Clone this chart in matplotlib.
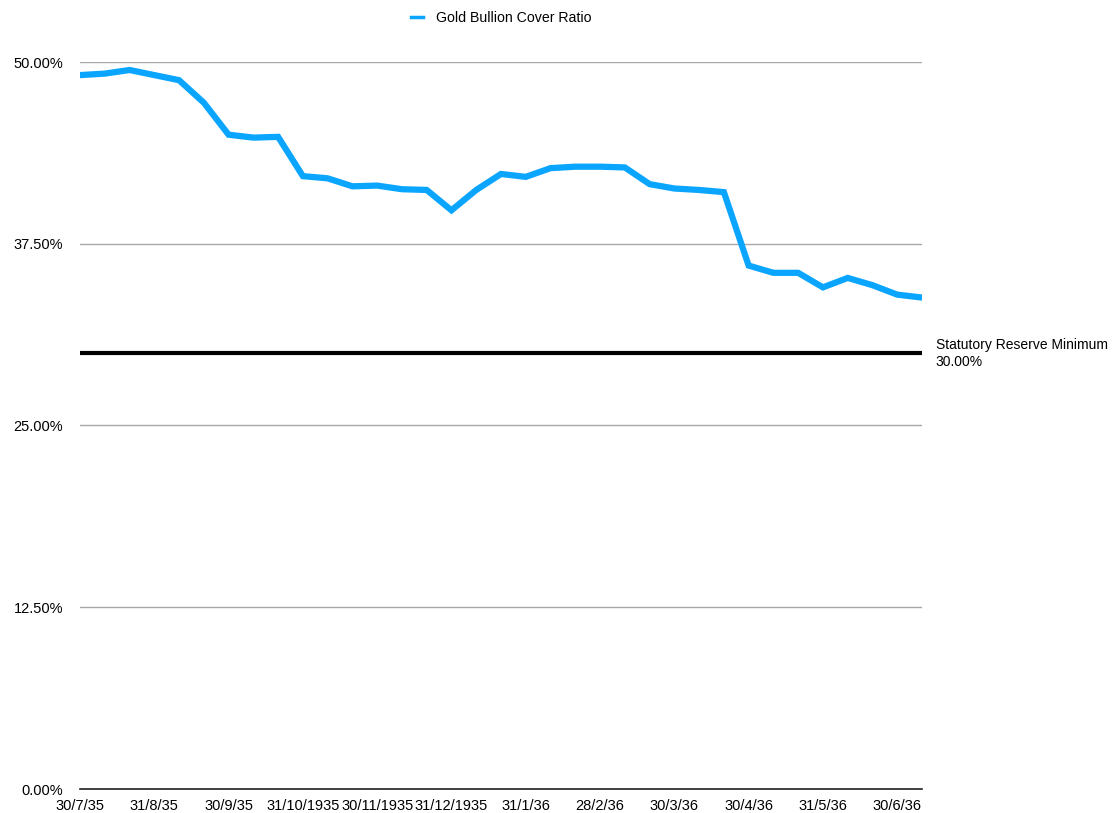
import matplotlib.pyplot as plt
from matplotlib.ticker import FuncFormatter

plt.rcParams['font.family'] = ['Liberation Sans', 'DejaVu Sans']

# cover ratio (%), one value per return date
cover_ratio = [49.1, 49.2, 49.45, 49.1, 48.75, 47.2, 45.0, 44.8, 44.85, 42.15,
               42.0, 41.45, 41.5, 41.25, 41.2, 39.8, 41.2, 42.3, 42.1, 42.7,
               42.8, 42.8, 42.75, 41.6, 41.3, 41.2, 41.05, 36.0, 35.5, 35.5,
               34.5, 35.15, 34.65, 34.0, 33.8]
tick_labels = ['30/7/35', '31/8/35', '30/9/35', '31/10/1935', '30/11/1935', '31/12/1935',
               '31/1/36', '28/2/36', '30/3/36', '30/4/36', '31/5/36', '30/6/36']
tick_every = 3
reserve_min = 30.0
y_ticks = [0, 12.5, 25, 37.5, 50]

fig = plt.figure(figsize=(11.15, 8.13), dpi=100)
ax = fig.add_axes([80 / 1115, 24 / 813, 842 / 1115, 727 / 813])

x = list(range(len(cover_ratio)))
ax.plot(x, cover_ratio, color='#0AA5FF', lw=4.5, solid_joinstyle='miter',
        label='Gold Bullion Cover Ratio', zorder=3)
ax.axhline(reserve_min, color='black', lw=3, zorder=2)
ax.text(len(cover_ratio) - 1 + 0.55, reserve_min - 0.05,
        'Statutory Reserve Minimum\n%.2f%%' % reserve_min,
        fontsize=10, va='center', ha='left', linespacing=1.2)

ax.set_xlim(0, len(cover_ratio) - 1)
ax.set_ylim(0, 50)
ax.set_yticks(y_ticks)
ax.yaxis.set_major_formatter(FuncFormatter(lambda v, p: '%.2f%%' % v))
ax.set_xticks(x[::tick_every])
ax.set_xticklabels(tick_labels)
ax.tick_params(length=0, labelsize=10.5)
ax.tick_params(axis='x', pad=7)
ax.tick_params(axis='y', pad=12)

ax.grid(axis='y', color='#A8A8A8', lw=1)
for s in ['top', 'right', 'left']:
    ax.spines[s].set_visible(False)
ax.spines['bottom'].set_color('#222222')
ax.spines['bottom'].set_linewidth(1.2)

leg = ax.legend(loc='center', bbox_to_anchor=(0.5, 1.061), frameon=False,
                fontsize=10.2, handlelength=0.9, handletextpad=0.9)
for h in leg.get_lines():
    h.set_linewidth(2.5)

plt.savefig('out.png', dpi=100)
